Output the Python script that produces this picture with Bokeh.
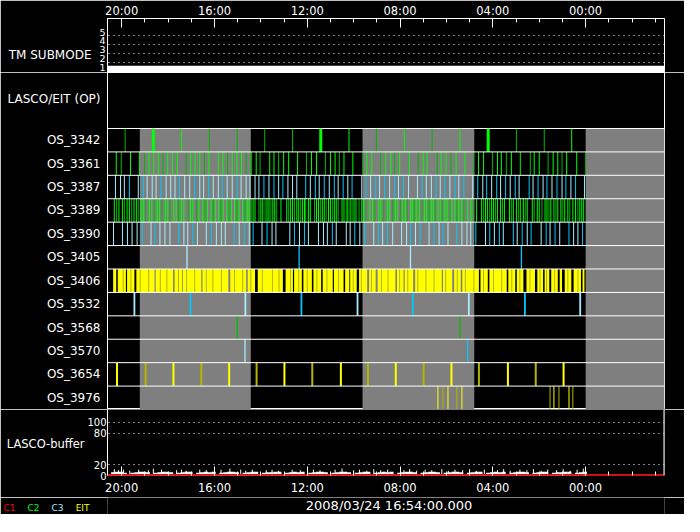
from bokeh.plotting import figure
from bokeh.models import Range1d, LinearAxis, FixedTicker, Grid, Span, Label
from bokeh.layouts import column
from bokeh.embed import file_html
from bokeh.resources import INLINE

FONT = "DejaVu Sans"

# ---------------- time axis (clock minutes, window runs 20:37 -> -03:24) -------------
window_start = 1236.6
window_end = -204.0
major_ticks = [1200, 960, 720, 480, 240, 0]
major_labels = ["20:00", "16:00", "12:00", "08:00", "04:00", "00:00"]
minor_ticks = [1200, 1140, 1080, 1020, 960, 900, 840, 780, 720, 660, 600, 540,
               480, 420, 360, 300, 240, 180, 120, 60, 0, -60, -120, -180]
date_label = "2008/03/24 16:54:00.000"

# ---------------- TM submode ----------------
submode_grid = [2, 3, 4, 5]
submode_label_pos = [1.5, 2.45, 3.45, 4.42, 5.37]
submode_label_txt = ["1", "2", "3", "4", "5"]
submode_t = [1236.6, -204.0]
submode_v = [1, 1]

# ---------------- OS rows ----------------
rows = ["OS_3342", "OS_3361", "OS_3387", "OS_3389", "OS_3390", "OS_3405",
        "OS_3406", "OS_3532", "OS_3568", "OS_3570", "OS_3654", "OS_3976"]

gray_start = [1153, 577, 0]
gray_end = [866, 288, -204]

os3342 = [1191, 1118, 1045, 973, 901, 830, 758, 685, 612, 541, 469, 397, 325, 252, 179, 107, 36]
os3342_dim = [1191, 973, 901, 830, 758, 541, 397, 179, 107]
os3342_thick = [1118, 685, 252]

os3361 = [1214, 1201, 1177, 1154, 1141, 1129, 1117, 1105, 1093, 1081, 1069, 1056, 1033, 1022,
          1010, 998, 986, 974, 950, 938, 926, 914, 902, 890, 878, 865, 852, 842, 817, 806, 794,
          781, 768, 745, 722, 709, 696, 673, 660, 648, 637, 625, 602, 576, 566, 553, 530, 517,
          504, 494, 481, 456, 433, 420, 410, 384, 374, 361, 348, 335, 312, 289, 277, 264, 241,
          228, 218, 205, 192, 169, 143, 133, 120, 97, 84, 72, 61, 49, 23, 0]
os3361_dim = [1201, 1141, 1093, 1033, 986, 926, 878, 842, 794, 722, 673, 637, 576, 530, 494,
              433, 384, 348, 289, 241, 205, 143, 97, 61, 0]

os3387 = [1216, 1203, 1193, 1180, 1157, 1144, 1134, 1121, 1111, 1098, 1085, 1073, 1062, 1050,
          1037, 1024, 1011, 998, 988, 975, 963, 950, 940, 927, 914, 901, 891, 878, 868, 855, 845,
          832, 819, 806, 794, 783, 770, 758, 747, 724, 712, 699, 689, 676, 663, 650, 640, 627,
          615, 604, 579, 568, 556, 543, 533, 520, 507, 494, 484, 471, 458, 435, 423, 412, 399,
          387, 376, 364, 351, 338, 328, 315, 292, 279, 266, 256, 243, 230, 220, 207, 195, 182,
          172, 146, 136, 123, 110, 100, 87, 74, 61, 51, 38, 26, 3]
os3387_deep = [1180, 1144, 1098, 1050, 1011, 975, 940, 901, 832, 806, 783, 724, 699, 676, 650,
               627, 604, 568, 543, 520, 494, 471, 423, 387, 364, 338, 315, 279, 256, 230, 207,
               182, 146, 123, 100, 74, 51, 26]

os3389 = [1219, 1213, 1207, 1198, 1193, 1186, 1180, 1174, 1168, 1162, 1157, 1150, 1144, 1138,
          1128, 1122, 1116, 1108, 1102, 1096, 1087, 1081, 1075, 1065, 1059, 1053, 1045, 1039,
          1028, 1022, 1016, 1006, 1000, 990, 984, 978, 969, 963, 957, 949, 943, 937, 928, 922,
          916, 908, 902, 896, 887, 881, 875, 870, 865, 860, 855, 845, 840, 835, 829, 824, 819,
          814, 809, 804, 799, 788, 773, 768, 763, 758, 753, 747, 742, 737, 732, 727, 724, 717,
          712, 701, 696, 691, 686, 681, 676, 671, 665, 660, 655, 650, 645, 640, 630, 625, 619,
          615, 609, 604, 599, 594, 586, 579, 574, 568, 558, 551, 545, 535, 530, 522, 512, 507,
          499, 492, 487, 479, 474, 466, 461, 453, 448, 443, 438, 430, 423, 417, 412, 405, 399,
          394, 389, 382, 376, 371, 364, 358, 351, 346, 338, 333, 328, 320, 315, 305, 297, 289,
          282, 269, 264, 259, 254, 248, 243, 238, 233, 228, 220, 215, 210, 197, 192, 187, 179,
          174, 169, 161, 156, 151, 138, 133, 125, 120, 113, 105, 100, 95, 90, 82, 77, 72, 64,
          59, 54, 46, 41, 33, 26, 20, 15, 10, 5]
os3389_dim = [1213, 1193, 1174, 1157, 1138, 1116, 1096, 1075, 1053, 1028, 1006, 984, 963, 943,
              922, 902, 881, 865, 845, 829, 814, 799, 768, 753, 737, 724, 701, 686, 671, 655,
              640, 619, 604, 586, 568, 545, 522, 499, 479, 461, 443, 423, 405, 389, 371, 351,
              333, 315, 289, 264, 248, 233, 215, 192, 174, 156, 133, 113, 95, 77, 59, 41, 20]

os3390 = [1221, 1198, 1185, 1173, 1160, 1147, 1124, 1114, 1101, 1088, 1075, 1052, 1039, 1029,
          1016, 1004, 981, 968, 955, 942, 932, 909, 896, 883, 870, 860, 837, 824, 811, 801, 765,
          753, 740, 727, 717, 691, 678, 668, 655, 645, 619, 609, 597, 584, 571, 548, 535, 525,
          512, 499, 476, 463, 453, 440, 428, 405, 392, 379, 369, 356, 333, 320, 307, 297, 284,
          259, 248, 236, 223, 213, 187, 177, 164, 151, 141, 115, 102, 92, 79, 67, 43, 31, 20, 8]
os3390_deep = [1147, 1114, 1052, 1016, 968, 909, 883, 860, 824, 753, 727, 655, 597, 571, 535,
               512, 453, 428, 392, 369, 333, 284, 248, 223, 187, 164, 141, 102, 79, 43, 8]

os3405 = [1031, 741, 453, 166]
os3405_deep = [741, 166]

os3406_start = [1222, 1210, 1186, 1162, 1112, 1063, 1042, 991, 919, 874, 848, 776, 754, 730,
                704, 680, 651, 622, 609, 586, 560, 538, 488, 468, 441, 369, 340, 319, 272, 249,
                200, 178, 153, 125, 106, 89, 67, 54, 31, 8]
os3406_end = [1214, 1189, 1167, 1115, 1067, 1044, 994, 924, 878, 855, 783, 757, 734, 708, 684,
              654, 626, 611, 592, 565, 543, 492, 471, 446, 372, 345, 323, 276, 253, 204, 182,
              161, 131, 110, 94, 72, 61, 37, 12, 3]
os3406_olive = [1196, 1176, 1152, 1130, 1100, 1083, 1053, 1032, 1011, 981, 964, 942, 908, 887,
                866, 836, 810, 793, 763, 742, 720, 695, 669, 639, 601, 580, 554, 528, 511, 481,
                460, 434, 413, 392, 362, 332, 311, 289, 264, 238, 217, 191, 170, 144, 118, 101,
                80, 46, 20]

os3532 = [1167, 1022, 880, 735, 590, 447, 302, 157, 14]
os3532_deep = [1022, 735, 447, 157]

os3568 = [901, 325]

os3570 = [881, 305]
os3570_deep = [305]

os3654 = [1212, 1138, 1066, 994, 922, 851, 779, 707, 633, 563, 491, 419, 347, 276, 201, 129, 57]
os3654_olive = [1138, 994, 851, 707, 563, 419, 276, 129]

os3976 = [382, 369, 356, 333, 320, 92, 82, 69, 43, 33]
os3976_olive = [369, 333, 92, 69, 33]

# ---------------- LASCO buffer ----------------
buffer_ticks = [0, 20, 80, 100]
buf_first = 1232
buf_step = 10
buf_vals = [3, 6, 7, 7, 5, 2, 5, 6, 7, 7, 6, 2, 5, 6, 7, 7, 6, 3, 5, 6,
            7, 7, 2, 5, 6, 7, 6, 7, 2, 5, 6, 7, 7, 6, 2, 5, 6, 7, 7, 3,
            5, 6, 6, 7, 7, 2, 5, 6, 7, 6, 7, 3, 5, 6, 7, 7, 6, 2, 5, 6,
            7, 7, 6, 2, 5, 6, 7, 7, 3, 5, 6, 7, 6, 7, 2, 5, 6, 7, 7, 6,
            3, 5, 6, 7, 7, 6, 2, 5, 6, 7, 7, 6, 3, 5, 6, 7, 7, 2, 5, 6,
            7, 6, 7, 3, 5, 6, 7, 7, 6, 2, 5, 6, 7, 7, 3, 5, 6, 6, 7, 7,
            2, 5, 6, 7]
spike_t = [1219, 1208, 1195, 1179, 1156, 1131, 1118, 1097, 1058, 1045, 1033, 998, 981, 943,
           920, 892, 879, 862, 826, 811, 794, 759, 738, 704, 687, 648, 630, 600, 585, 566, 548,
           530, 512, 470, 455, 437, 415, 398, 372, 355, 338, 318, 300, 283, 262, 228, 212, 195,
           170, 152, 135, 115, 98, 75, 58, 40, 22, 6]
spike_v = [12, 10, 11, 9, 11, 10, 13, 11, 10, 11, 9, 11, 10, 11, 13, 11, 9, 11, 10, 11, 9, 11,
           10, 11, 10, 11, 13, 10, 11, 9, 12, 10, 11, 10, 12, 9, 11, 10, 12, 9, 11, 10, 12, 9,
           11, 10, 12, 9, 11, 10, 12, 9, 11, 10, 12, 9, 11, 13]
c1_t = [1236.6, -204.0]
c1_v = [0, 0]

legend_names = ["C1", "C2", "C3", "EIT"]
legend_colors = ["#ff0000", "#00ff00", "#a6ecff", "#ffff00"]
legend_gaps = [9, 9, 9, 18]

# ---------------- colours ----------------
GREEN, GREEN_D = "#00ff00", "#00b800"
CYAN_L, CYAN = "#a6ecff", "#00c8ff"
YEL, OLIVE = "#ffff00", "#b4b400"
GRAY = "#7f7f7f"

x_range = Range1d(window_start, window_end)


def make_fig(height, y_range, outline="white"):
    p = figure(width=684, height=height, x_range=x_range, y_range=y_range,
               x_axis_type=None, y_axis_type=None, toolbar_location=None,
               output_backend="svg", min_border_left=101, min_border_right=20,
               min_border_top=0, min_border_bottom=0,
               background_fill_color="black", border_fill_color="black",
               outline_line_color=outline)
    return p


def style_axis(ax, size="12px", standoff=4, line=True):
    ax.axis_line_color = "white" if line else None
    ax.major_tick_line_color = "white"
    ax.minor_tick_line_color = "white"
    ax.major_tick_in = 0
    ax.major_tick_out = 0
    ax.minor_tick_in = 0
    ax.minor_tick_out = 0
    ax.major_label_text_color = "white"
    ax.major_label_text_font = FONT
    ax.major_label_text_font_size = size
    ax.major_label_standoff = standoff


def time_axis(standoff):
    ax = LinearAxis(ticker=FixedTicker(ticks=major_ticks, minor_ticks=minor_ticks),
                    major_label_overrides=dict(zip(major_ticks, major_labels)))
    style_axis(ax, "11.5px", standoff)
    ax.major_tick_in = 9
    ax.minor_tick_in = 4
    return ax


# ================= TM SUBMODE panel =================
top = make_fig(72, Range1d(0.936, 6.875))
top.add_layout(time_axis(1), "above")
ax = LinearAxis(ticker=FixedTicker(ticks=submode_label_pos),
                major_label_overrides=dict(zip(submode_label_pos, submode_label_txt)))
style_axis(ax, "9.5px", 2)
top.add_layout(ax, "left")
ax = LinearAxis(ticker=FixedTicker(ticks=[2.81]), major_label_overrides={2.81: "TM SUBMODE"})
style_axis(ax, "12px", 5, line=False)
top.add_layout(ax, "left")
top.add_layout(Grid(dimension=1, ticker=FixedTicker(ticks=submode_grid),
                    grid_line_color="white", grid_line_dash="1 4", grid_line_width=1))
top.varea(x=submode_t, y1=[v - 0.1 for v in submode_v], y2=[v + 0.68 for v in submode_v],
          fill_color="white")

# ================= OS rows panel =================
ops = make_fig(337, Range1d(0, 14.391))
tick_pos = [11.5 - i for i in range(len(rows))] + [13.24]
tick_txt = rows + ["LASCO/EIT (OP)"]
ax = LinearAxis(ticker=FixedTicker(ticks=tick_pos), major_label_overrides=dict(zip(tick_pos, tick_txt)))
style_axis(ax, "12px", 7)
ops.add_layout(ax, "left")

ops.quad(left=gray_start, right=gray_end, bottom=0, top=12, fill_color=GRAY, line_color=None)


def events(row_i, times, alt, col_a, col_b, width=1.0):
    lo, hi = 11 - row_i, 12 - row_i
    for col, ts in ((col_a, [t for t in times if t not in alt]),
                    (col_b, [t for t in times if t in alt])):
        if ts:
            ops.segment(x0=ts, y0=[lo] * len(ts), x1=ts, y1=[hi] * len(ts),
                        line_color=col, line_width=width)


events(0, [t for t in os3342 if t not in os3342_thick], os3342_dim, GREEN, GREEN_D)
events(0, os3342_thick, [], GREEN, GREEN, 3)
events(1, os3361, os3361_dim, GREEN, GREEN_D)
events(2, os3387, os3387_deep, CYAN_L, CYAN)
events(3, os3389, os3389_dim, GREEN, GREEN_D)
events(4, os3390, os3390_deep, CYAN_L, CYAN)
events(5, os3405, os3405_deep, CYAN_L, CYAN, 1.3)
ops.quad(left=os3406_start, right=os3406_end, bottom=5, top=6, fill_color=YEL, line_color=None)
events(6, os3406_olive, [], OLIVE, OLIVE, 1)
events(7, os3532, os3532_deep, CYAN_L, CYAN, 1.8)
events(8, os3568, [], "#00c000", "#00c000", 1.3)
events(9, os3570, os3570_deep, CYAN_L, CYAN, 1.3)
events(10, os3654, os3654_olive, YEL, OLIVE, 2)
events(11, os3976, os3976_olive, YEL, OLIVE, 1)

for k in range(13):
    ops.add_layout(Span(location=k, dimension="width", line_color="white", line_width=1))

# ================= LASCO buffer panel =================
buf = make_fig(88, Range1d(0, 124.3), outline=None)
bx = time_axis(5)
bx.axis_line_color = None
buf.add_layout(bx, "below")
ax = LinearAxis(ticker=FixedTicker(ticks=buffer_ticks))
style_axis(ax, "10px", 1)
buf.add_layout(ax, "left")
ax = LinearAxis(ticker=FixedTicker(ticks=[60]), major_label_overrides={60: "LASCO-buffer"})
style_axis(ax, "11.5px", 0, line=False)
buf.add_layout(ax, "left")
buf.add_layout(Grid(dimension=1, ticker=FixedTicker(ticks=[20, 80, 100]),
                    grid_line_color="white", grid_line_dash="1 4", grid_line_width=1))

buf_t = [buf_first - buf_step * i for i in range(len(buf_vals))]
buf.quad(left=[t + buf_step / 2 + 0.3 for t in buf_t], right=[t - buf_step / 2 - 0.3 for t in buf_t],
         bottom=0, top=buf_vals, fill_color="white", line_color=None)
buf.segment(x0=spike_t, y0=[0] * len(spike_t), x1=spike_t, y1=spike_v, line_color="white", line_width=1)
buf.line(x=c1_t, y=c1_v, line_color="#ff0000", line_width=3)
buf.add_layout(Span(location=window_end, dimension="height", line_color="white", line_width=2))

# ================= bottom strip: date + colour legend =================
strip = make_fig(17, Range1d(0, 1), outline=None)
strip.add_layout(Label(x=563 / 2, y=9, x_units="screen", y_units="screen", text=date_label,
                       text_color="white", text_font=FONT, text_font_size="13px",
                       text_align="center", text_baseline="middle"))
# legend entries as stacked left-side labels (innermost = EIT, outermost = C1)
for name, col, gap in reversed(list(zip(legend_names, legend_colors, legend_gaps))):
    la = LinearAxis(ticker=FixedTicker(ticks=[0.4]), major_label_overrides={0.4: name})
    style_axis(la, "9px", gap, line=False)
    la.major_label_text_color = col
    strip.add_layout(la, "left")

layout = column(top, ops, buf, strip)
open("out.html", "w").write(file_html(layout, INLINE))
